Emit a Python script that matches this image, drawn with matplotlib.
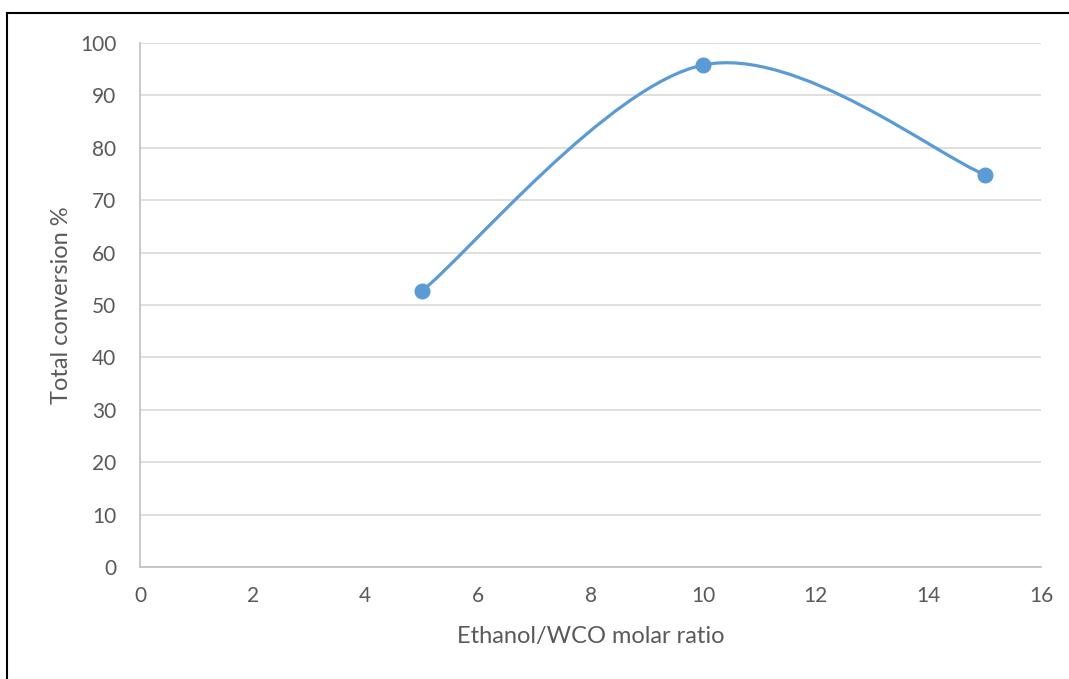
import numpy as np
import matplotlib
matplotlib.use("Agg")
import matplotlib.pyplot as plt
from matplotlib.lines import Line2D
from matplotlib.path import Path
from matplotlib.patches import PathPatch

molar_ratio = [5, 10, 15]
conversion = [52.6, 95.8, 74.9]
x_ticks = [0, 2, 4, 6, 8, 10, 12, 14, 16]
y_ticks = [0, 10, 20, 30, 40, 50, 60, 70, 80, 90, 100]

plt.rcParams['font.family'] = ['Lato', 'DejaVu Sans']

fig = plt.figure(figsize=(10.69, 6.79), dpi=100)
ax = fig.add_axes([140/1069, 1-567/679, (1041-140)/1069, (567-43)/679])

# Excel-like smoothed curve (Catmull-Rom Bezier)
pts = np.column_stack([molar_ratio, conversion]).astype(float)
n = len(pts)
verts = [tuple(pts[0])]
codes = [Path.MOVETO]
for i in range(n - 1):
    p0 = pts[max(i - 1, 0)]
    p1 = pts[i]
    p2 = pts[i + 1]
    p3 = pts[min(i + 2, n - 1)]
    c1 = p1 + (p2 - p0) / 6.0
    c2 = p2 - (p3 - p1) / 6.0
    verts += [tuple(c1), tuple(c2), tuple(p2)]
    codes += [Path.CURVE4] * 3
ax.add_patch(PathPatch(Path(verts, codes), facecolor='none', edgecolor='#5B9BD5',
                       lw=2.3, capstyle='round', zorder=3))
ax.plot(molar_ratio, conversion, linestyle='none', marker='o', markersize=10.5,
        color='#5B9BD5', zorder=4)

ax.set_xlim(0, 16)
ax.set_ylim(0, 100)
ax.set_xticks(x_ticks)
ax.set_yticks(y_ticks)
ax.grid(axis='y', color='#D9D9D9', lw=1.2)
ax.grid(axis='x', visible=False)
ax.set_axisbelow(True)
for s in ['top', 'right']:
    ax.spines[s].set_visible(False)
for s in ['left', 'bottom']:
    ax.spines[s].set_color('#BFBFBF')
    ax.spines[s].set_linewidth(1.2)
ax.tick_params(length=0, labelsize=15, labelcolor='#595959')
ax.tick_params(axis='x', pad=14)
ax.tick_params(axis='y', pad=17)
ax.set_xlabel('Ethanol/WCO molar ratio', fontsize=17, color='#595959', labelpad=14)
ax.set_ylabel('Total conversion %', fontsize=17, color='#595959', labelpad=6)

# border lines (left and top)
fig.add_artist(Line2D([7/1069, 7/1069], [0, 1-13/679], transform=fig.transFigure,
                      color='black', lw=1.5))
fig.add_artist(Line2D([7/1069, 1], [1-13/679, 1-13/679], transform=fig.transFigure,
                      color='black', lw=1.5))

fig.savefig('out.png', dpi=100)
